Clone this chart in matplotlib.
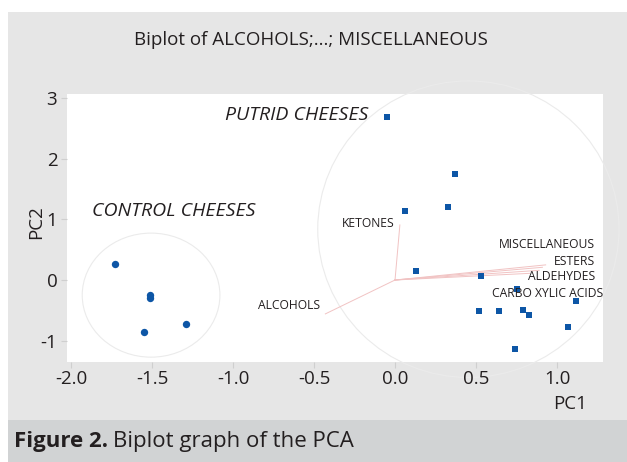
import matplotlib
matplotlib.use("Agg")
import matplotlib.pyplot as plt
from matplotlib.patches import Ellipse, Rectangle

plt.rcParams['font.family'] = ['Open Sans', 'DejaVu Sans']

# PCA scores
putrid_pc1 = [-0.05, 0.37, 0.33, 0.06, 0.13, 0.53, 0.75, 1.12, 0.52, 0.64, 0.79, 0.83, 1.07, 0.74]
putrid_pc2 = [2.69, 1.75, 1.20, 1.14, 0.15, 0.07, -0.15, -0.35, -0.52, -0.52, -0.50, -0.58, -0.78, -1.14]
control_pc1 = [-1.73, -1.51, -1.51, -1.29, -1.55]
control_pc2 = [0.26, -0.24, -0.29, -0.73, -0.86]

# Loadings (variable vectors)
var_names = ["KETONES", "ALCOHOLS", "MISCELLANEOUS", "ESTERS", "ALDEHYDES", "CARBO XYLIC ACIDS"]
load_pc1 = [0.03, -0.43, 0.93, 0.91, 0.89, 0.83]
load_pc2 = [0.91, -0.56, 0.25, 0.21, 0.16, 0.11]

xticks = [-2.0, -1.5, -1.0, -0.5, 0.0, 0.5, 1.0]
yticks = [-1, 0, 1, 2, 3]

W, H = 627, 462
fig = plt.figure(figsize=(W / 100, H / 100), dpi=100, facecolor="white")

# panel and caption band
fig.patches.append(Rectangle((8 / W, 1 - 420 / H), 1 - 8 / W, (420 - 12) / H,
                             transform=fig.transFigure, facecolor="#e6e6e6",
                             edgecolor="none", zorder=-10))
fig.patches.append(Rectangle((8 / W, 0), 1 - 8 / W, 42 / H,
                             transform=fig.transFigure, facecolor="#d1d3d4",
                             edgecolor="none", zorder=-10))

ax = fig.add_axes([67 / W, 1 - 362 / H, (603 - 67) / W, (362 - 94) / H])
ax.set_zorder(1)
ax.set_facecolor("white")
ax.set_xlim(-2.025, 1.284)
ax.set_ylim(-1.355, 3.074)
for s in ax.spines.values():
    s.set_visible(False)

txt = "#231f20"
ax.set_xticks(xticks)
ax.set_xticklabels([f"{v:.1f}" for v in xticks])
ax.set_yticks(yticks)
ax.set_yticklabels([str(v) for v in yticks])
ax.tick_params(axis="both", colors="#cfcfcf", labelcolor=txt, labelsize=13.5,
               length=4, width=0.8)
ax.tick_params(axis="x", pad=2)
ax.tick_params(axis="y", pad=3)

# group outlines
ax.add_patch(Ellipse((-1.506, -0.25), 0.85, 2.05, fill=False,
                     edgecolor="#ebebeb", lw=0.8, zorder=1))
ax.add_patch(Ellipse((0.453, 0.84), 1.86, 4.90, fill=False,
                     edgecolor="#ebebeb", lw=0.8, zorder=1, clip_on=False))

# loading vectors
for px, py in zip(load_pc1, load_pc2):
    ax.plot([0, px], [0, py], color="#f1c3c3", lw=0.7, zorder=2)

# scores
ax.plot(putrid_pc1, putrid_pc2, "s", color="#0d56a6", ms=5, mew=0, zorder=3)
ax.plot(control_pc1, control_pc2, "o", color="#0d56a6", ms=5.3, mew=0, zorder=3)

lab = dict(color=txt, fontsize=8.7)
ax.annotate(var_names[0], (load_pc1[0], load_pc2[0]), xytext=(-4, 1),
            textcoords="offset points", ha="right", va="center", **lab)
ax.annotate(var_names[1], (load_pc1[1], load_pc2[1]), xytext=(-4, 6),
            textcoords="offset points", ha="right", va="center", **lab)
ax.text(1.235, 0.595, var_names[2], ha="right", va="center", **lab)
ax.text(1.235, 0.314, var_names[3], ha="right", va="center", **lab)
ax.text(1.235, 0.050, var_names[4], ha="right", va="center", **lab)
ax.text(1.284, -0.215, var_names[5], ha="right", va="center", **lab)

ax.text(-0.167, 2.73, "PUTRID CHEESES", style="italic", ha="right", va="center",
        color=txt, fontsize=14)
ax.text(-1.87, 1.14, "CONTROL CHEESES", style="italic", ha="left", va="center",
        color=txt, fontsize=14)

ax.set_ylabel("PC2", color=txt, fontsize=13.5)
ax.yaxis.set_label_coords((45 - 67) / 536, (362 - 222) / 268)
fig.text(570 / W, 1 - 404 / H, "PC1", ha="center", va="center", color=txt, fontsize=13.5)

fig.text(311 / W, 1 - 40 / H, "Biplot of ALCOHOLS;...; MISCELLANEOUS",
         ha="center", va="center", color=txt, fontsize=13.5)

cap = fig.text(14 / W, 1 - 442 / H, "Figure 2.", ha="left", va="center",
               color=txt, fontsize=16, fontweight="bold")
fig.canvas.draw()
bb = cap.get_window_extent()
fig.text(bb.x1 / W + 5 / W, 1 - 442 / H, "Biplot graph of the PCA", ha="left",
         va="center", color=txt, fontsize=16)

fig.savefig("out.png", dpi=100, facecolor="white")
